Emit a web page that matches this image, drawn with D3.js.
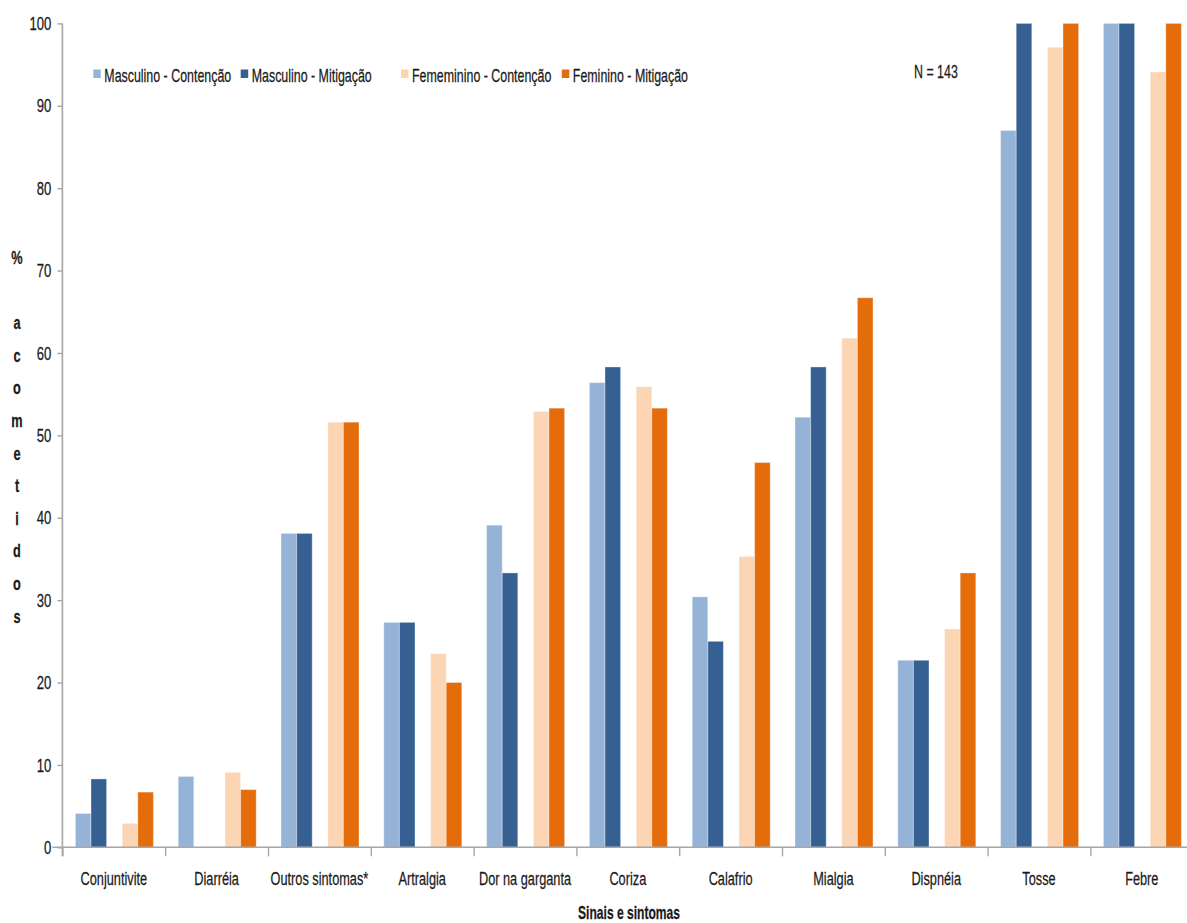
<!DOCTYPE html>
<html><head><meta charset="utf-8">
<script src="https://cdn.jsdelivr.net/npm/d3@7/dist/d3.min.js"></script>
<style>
html,body{margin:0;padding:0;background:#fff;overflow:hidden}
svg{display:block}
text{font-family:"Liberation Sans",Arial,sans-serif;fill:#1a1a1a}
</style></head>
<body>
<svg id="c" width="1187" height="923"></svg>
<script>
const categories = ["Conjuntivite","Diarréia","Outros sintomas*","Artralgia","Dor na garganta","Coriza","Calafrio","Mialgia","Dispnéia","Tosse","Febre"];
const seriesNames = ["Masculino - Contenção","Masculino - Mitigação","Fememinino - Contenção","Feminino - Mitigação"];
const mascContencao = [4.1, 8.6, 38.1, 27.3, 39.1, 56.4, 30.4, 52.2, 22.7, 87.0, 100];
const mascMitigacao = [8.3, 0, 38.1, 27.3, 33.3, 58.3, 25.0, 58.3, 22.7, 100, 100];
const femContencao  = [2.9, 9.1, 51.6, 23.5, 52.9, 55.9, 35.3, 61.8, 26.5, 97.1, 94.1];
const femMitigacao  = [6.7, 7.0, 51.6, 20.0, 53.3, 53.3, 46.7, 66.7, 33.3, 100, 100];
const yTicks = [0,10,20,30,40,50,60,70,80,90,100];
const nLabel = "N = 143";
const xTitle = "Sinais e sintomas";
const yTitle = "% acometidos";

const series = [mascContencao, mascMitigacao, femContencao, femMitigacao];
const colors = ["#95b3d7","#366092","#fcd5b4","#e46c0a"];
const slots = [0,1,3,4];
const SX = 0.69;
const FS = 18.5;
const FONT = '"Liberation Sans",Arial,sans-serif';

const svg = d3.select("#c");
const x0 = 62.4, catW = 102.8;
const yTop = 23.4, yBot = 847.3;

const x = d3.scaleBand().domain(categories).range([x0, x0 + catW*categories.length]).padding(0);
const xi = d3.scaleBand().domain([0,1,2,3,4]).range([13, 13 + 5*15.6]).padding(0);
const y = d3.scaleLinear().domain([0,100]).range([yBot, yTop]);

// bars
series.forEach((vals, si) => {
  svg.append("g").selectAll("rect").data(vals).join("rect")
    .attr("x", (d,i) => x(categories[i]) + xi(slots[si]))
    .attr("width", xi.bandwidth())
    .attr("y", d => y(d))
    .attr("height", d => y(0) - y(d))
    .attr("fill", colors[si])
    .attr("stroke", "rgba(255,255,255,0.35)")
    .attr("stroke-width", 1);
});

function styleText(sel, size) {
  sel.attr("font-size", size).attr("font-family", FONT)
    .attr("fill","#1a1a1a").attr("stroke","#1a1a1a").attr("stroke-width",0.25);
}

// y axis
const yAxis = svg.append("g").attr("transform", `translate(${x0},0)`)
  .call(d3.axisLeft(y).tickValues(yTicks).tickSize(5).tickPadding(0).tickSizeOuter(0));
yAxis.select(".domain").attr("stroke","#a6a6a6").attr("stroke-width",1.6)
  .attr("d", `M0,${yTop}V${yBot+9}`);
yAxis.selectAll(".tick line").attr("stroke","#a6a6a6").attr("stroke-width",1.4);
styleText(yAxis.selectAll(".tick text"), 19);
yAxis.selectAll(".tick text").attr("x", -11/SX).attr("transform",`scale(${SX},1)`);

// x axis boundary ticks
const xb = d3.scaleLinear().domain([0, categories.length]).range([x0, x0 + catW*categories.length]);
const xAxisB = svg.append("g").attr("transform", `translate(0,${yBot})`)
  .call(d3.axisBottom(xb).tickValues(d3.range(0, categories.length+1)).tickFormat("").tickSize(9).tickSizeOuter(0));
xAxisB.select(".domain").attr("stroke","#a6a6a6").attr("stroke-width",1.6)
  .attr("d", `M${x0-10},0H${x0 + catW*categories.length}`);
xAxisB.selectAll(".tick line").attr("stroke","#a6a6a6").attr("stroke-width",1.4);

// x labels
const xAxisL = svg.append("g").attr("transform", `translate(0,${yBot})`)
  .call(d3.axisBottom(x).tickSize(0).tickPadding(25));
xAxisL.select(".domain").remove();
styleText(xAxisL.selectAll(".tick text"), FS);
xAxisL.selectAll(".tick text").attr("transform",`scale(${SX},1)`);

function txt(s, tx, ty, opts={}) {
  const t = svg.append("text").text(s)
    .attr("transform", `translate(${tx},${ty}) scale(${SX},1)`)
    .attr("text-anchor", opts.anchor || "start");
  styleText(t, opts.size || FS);
  if (opts.bold) t.attr("font-weight","bold");
  return t;
}

// legend
const legSq = [93.3, 240.7, 401, 561.8];
seriesNames.forEach((n, i) => {
  svg.append("rect").attr("x", legSq[i]).attr("y", 69.5).attr("width", 7.5).attr("height", 8.5).attr("fill", colors[i]);
  txt(n, legSq[i] + 11, 82, {size:18});
});
txt(nLabel, 914, 78, {size:18});

// axis titles
txt(xTitle, 629, 919, {anchor:"middle", bold:true, size:17.5});
const chars = Array.from(yTitle);
chars.forEach((ch, i) => {
  if (ch === " ") return;
  txt(ch, 17, 264 + i*32.6, {anchor:"middle", bold:true, size:18.5});
});
</script>
</body></html>
